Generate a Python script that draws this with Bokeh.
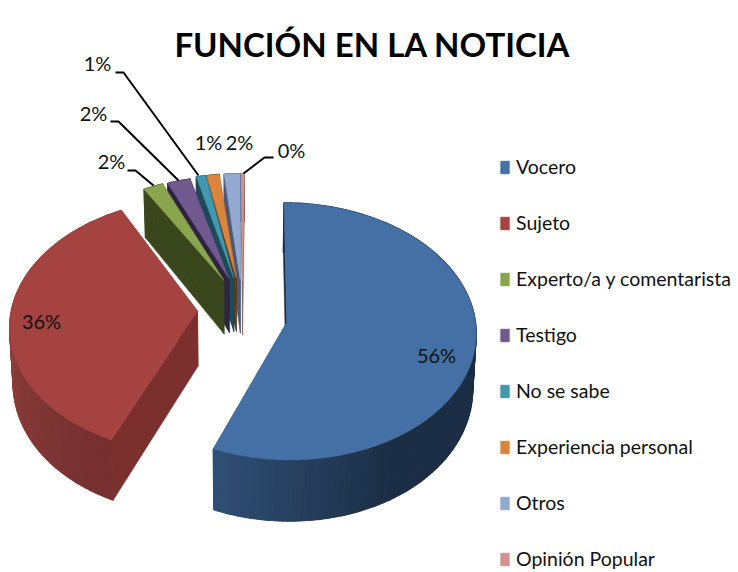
from math import sin, cos, radians
from bokeh.plotting import figure
from bokeh.models import Range1d, Legend, LegendItem
from bokeh.core.properties import value
from bokeh.embed import file_html
from bokeh.resources import INLINE

TITLE = "FUNCIÓN EN LA NOTICIA"
categories = ["Vocero", "Sujeto", "Experto/a y comentarista", "Testigo", "No se sabe",
              "Experiencia personal", "Otros", "Opinión Popular"]
shares = [56.2, 35.8, 1.9, 2.2, 0.9, 1.2, 1.5, 0.3]
tops = ["#4470A5", "#A54340", "#89A54E", "#71588F", "#4198AF", "#DB843D", "#93A9CF", "#D19392"]
faces = ["#1B2E45", "#7B302D", "#3A461C", "#2E2440", "#1C4A58", "#5E3A18", "#4A5A78", "#8A6060"]
wall_a = ["#1B2E45", "#763030", "#3A461C", "#2E2440", "#1C4A58", "#5E3A18", "#4A5A78", "#8A6060"]
wall_b = ["#2F4E73", "#8E3F3B", "#3A461C", "#2E2440", "#1C4A58", "#5E3A18", "#4A5A78", "#8A6060"]

FONT = "Lato"
CX, CY, RX, RY, K, EXPLODE, DEPTH, DEPTH_K, SHRINK = 242, 316, 190, 128.4, 0.07, 0.237, 55, 0.11, 0.015
# per-slice drawing corrections for the exploded projection
NUDGE_Y = [0, 0, 0, 0, 0, 0, 0, 0]
APEX_DY = [0, -6, -9, -9, -9, -9, -7, -5]
ROT = [0, 2.3, 0.5, 0.4, 1.1, 0.6, 0.96, 0.6]
RAD = [0.99, 0.985, 0.965, 0.96, 0.97, 0.97, 0.97, 0.97]


def top_pt(x, y, ny=0):
    s = 1 / (1 + K * y)
    return CX + RX * x * s, CY - RY * y * s + ny


def bot_pt(x, y, ny=0):
    sx, sy = top_pt(x, y, ny)
    return CX + (sx - CX) * (1 - SHRINK), sy + DEPTH * (1 - DEPTH_K * y)


def mix(c1, c2, t):
    a = [int(c1[i:i + 2], 16) for i in (1, 3, 5)]
    b = [int(c2[i:i + 2], 16) for i in (1, 3, 5)]
    return "#%02x%02x%02x" % tuple(round(u + (v - u) * t) for u, v in zip(a, b))


p = figure(width=738, height=572, output_backend="svg", toolbar_location=None,
           x_range=Range1d(0, 738), y_range=Range1d(572, 0), min_border=0,
           outline_line_color=None)
p.axis.visible = False
p.grid.visible = False

starts, acc = [], 0.0
for v in shares:
    starts.append(acc)
    acc += v
slices = []
for i, v in enumerate(shares):
    a0 = starts[i] * 3.6 + ROT[i]
    a1 = (starts[i] + v) * 3.6 + ROT[i]
    m = radians((a0 + a1) / 2)
    ox, oy = EXPLODE * sin(m), EXPLODE * cos(m)
    n = max(2, int(v * 3))
    rim = [(ox + RAD[i] * sin(radians(a0 + (a1 - a0) * j / n)), oy + RAD[i] * cos(radians(a0 + (a1 - a0) * j / n)))
           for j in range(n + 1)]
    slices.append(dict(i=i, ox=ox, oy=oy, rim=rim, a0=a0, a1=a1))

items = {}
for s in [slices[j] for j in (7, 6, 5, 4, 3, 2, 1, 0)]:
    i = s["i"]
    ny = NUDGE_Y[i]
    ax, ay = s["ox"], s["oy"]
    rim = s["rim"]
    tx, ty = top_pt(ax, ay, ny)
    ty += APEX_DY[i]
    bx, by = bot_pt(ax, ay, ny)
    by += APEX_DY[i]
    fx, fy = [], []
    for e in (rim[0], rim[-1]):
        pts = [(tx, ty), top_pt(*e, ny), bot_pt(*e, ny), (bx, by)]
        fx.append([q[0] for q in pts])
        fy.append([q[1] for q in pts])
    p.patches(fx, fy, fill_color=faces[i], line_color=faces[i], line_width=0.5)
    wx, wy, wc = [], [], []
    for j in range(len(rim) - 1):
        pts = [top_pt(*rim[j], ny), top_pt(*rim[j + 1], ny), bot_pt(*rim[j + 1], ny), bot_pt(*rim[j], ny)]
        wx.append([q[0] for q in pts])
        wy.append([q[1] for q in pts])
        ang = s["a0"] + (s["a1"] - s["a0"]) * (j + .5) / (len(rim) - 1)
        if i == 0:
            t = min(1, max(0, (ang - 150) / 50))
        elif i == 1:
            t = min(1, max(0, (ang - 210) / 60))
        else:
            t = 0
        wc.append(mix(wall_a[i], wall_b[i], t))
    p.patches(wx, wy, fill_color=wc, line_color=wc, line_width=1.2)
    pts = [(tx, ty)] + [top_pt(*q, ny) for q in rim]
    r = p.patches([[q[0] for q in pts]], [[q[1] for q in pts]], fill_color=tops[i], line_color=tops[i],
                  line_width=0.5)
    items[i] = r

leaders = [([115, 123, 198], [72, 72, 175]),
           ([110, 118, 178], [121, 121, 180]),
           ([127, 135, 153], [170, 170, 185]),
           ([273, 264, 243], [157, 157, 173])]
for lx, ly in leaders:
    p.line(lx, ly, line_color="#000000", line_width=2)

label_at = {0: (436, 354), 1: (41, 320), 2: (111, 160), 3: (93, 112), 4: (97, 62),
            5: (208, 141), 6: (239, 141), 7: (291, 149)}
lx = [label_at[i][0] for i in range(8)]
ly = [label_at[i][1] for i in range(8)]
lt = ["%d%%" % round(v) for v in shares]
p.text(lx, ly, text=lt, text_font=value(FONT), text_font_size="20px", text_color="#111111",
       text_align="center", text_baseline="middle")

p.text([372], [43], text=[TITLE], text_font=value(FONT), text_font_size="33px", text_font_style="bold",
       text_color="#000000", text_align="center", text_baseline="middle")

legend = Legend(items=[LegendItem(label=c, renderers=[items[i]]) for i, c in enumerate(categories)],
                location=(499, 0), orientation="vertical", padding=0, margin=0,
                spacing=29, glyph_width=11, glyph_height=16, label_height=27, label_standoff=6,
                label_text_font=FONT, label_text_font_size="19.5px", label_text_color="#111111",
                background_fill_alpha=0, border_line_color=None)
p.add_layout(legend)

open("out.html", "w").write(file_html(p, INLINE))
